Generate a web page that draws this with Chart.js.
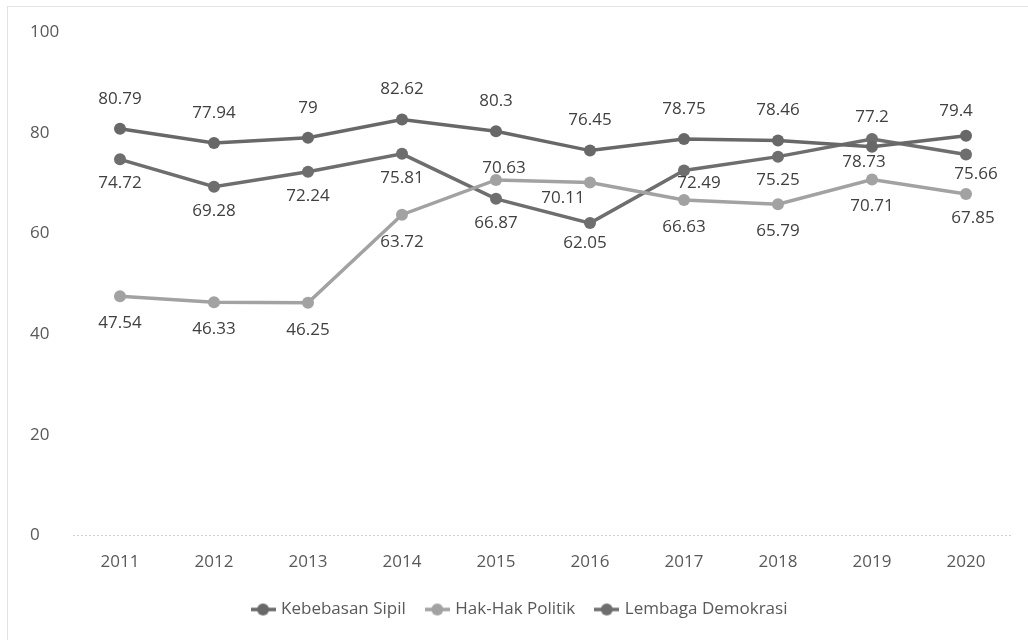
<!DOCTYPE html>
<html>
<head>
<meta charset="utf-8">
<script src="https://cdn.jsdelivr.net/npm/chart.js@4/dist/chart.umd.min.js"></script>
<style>
  html, body { margin: 0; padding: 0; background: #fff; }
  #wrap { position: relative; width: 1028px; height: 640px; overflow: hidden; }
  #frame { position: absolute; left: 7px; top: 6px; width: 1100px; height: 700px; border: 1px solid #e3e3e3; }
  #c { position: absolute; left: 0; top: 0; }
</style>
</head>
<body>
<div id="wrap">
  <div id="frame"></div>
  <canvas id="c" width="1028" height="640"></canvas>
</div>
<script>
// data
const years = ['2011', '2012', '2013', '2014', '2015', '2016', '2017', '2018', '2019', '2020'];
const kebebasanSipil = [80.79, 77.94, 79, 82.62, 80.3, 76.45, 78.75, 78.46, 77.2, 79.4];
const hakPolitik = [47.54, 46.33, 46.25, 63.72, 70.63, 70.11, 66.63, 65.79, 70.71, 67.85];
const lembagaDemokrasi = [74.72, 69.28, 72.24, 75.81, 66.87, 62.05, 72.49, 75.25, 78.73, 75.66];
const yTicks = [0, 20, 40, 60, 80, 100];

const FONT = '"Open Sans", "DejaVu Sans", sans-serif';
const TEXT = '#595959';

// label offsets (dx, dy) from the point, per series, with a few nudges
const labelOffset = [[0, -30], [0, 27], [0, 24]];
const labelNudge = {
    '1-4': [8, -12], '1-5': [-27, 16], '1-9': [7, 24],
    '2-5': [-5, 20], '2-6': [15, 13], '2-8': [-8, 23], '2-9': [10, 20],
    '0-9': [-10, -25]
};

function legendMarker(color) {
    const cv = document.createElement('canvas');
    cv.width = 25; cv.height = 14;
    const g = cv.getContext('2d');
    g.strokeStyle = color; g.lineWidth = 3.5;
    g.beginPath(); g.moveTo(0, 7); g.lineTo(25, 7); g.stroke();
    g.fillStyle = color;
    g.beginPath(); g.arc(12.5, 7, 6, 0, Math.PI * 2); g.fill();
    return cv;
}

const valueLabels = {
    id: 'valueLabels',
    afterDatasetsDraw(chart) {
        const ctx = chart.ctx;
        ctx.save();
        ctx.font = '17px ' + FONT;
        ctx.fillStyle = '#404040';
        ctx.textAlign = 'center';
        ctx.textBaseline = 'middle';
        chart.data.datasets.forEach((ds, di) => {
            chart.getDatasetMeta(di).data.forEach((pt, i) => {
                const off = labelNudge[di + '-' + i] || labelOffset[di];
                ctx.fillText(String(ds.data[i]), pt.x + off[0], pt.y + off[1]);
            });
        });
        ctx.restore();
    }
};

// nudge the legend into place after layout
const legendShift = {
    id: 'legendShift',
    afterLayout(chart) {
        const lg = chart.legend;
        if (!lg) return;
        lg.left -= 1; lg.right -= 1;
        lg.top -= 9; lg.bottom -= 9;
    }
};

function series(label, data, color) {
    return {
        label: label,
        data: data,
        borderColor: color,
        backgroundColor: color,
        borderWidth: 3.5,
        pointRadius: 6,
        pointHoverRadius: 6,
        pointBorderWidth: 0,
        pointBackgroundColor: color,
        tension: 0,
        marker: legendMarker(color)
    };
}

new Chart(document.getElementById('c').getContext('2d'), {
    type: 'line',
    data: {
        labels: years,
        datasets: [
            series('Kebebasan Sipil', kebebasanSipil, '#686868'),
            series('Hak-Hak Politik', hakPolitik, '#a2a2a2'),
            series('Lembaga Demokrasi', lembagaDemokrasi, '#6e6e6e')
        ]
    },
    options: {
        responsive: false,
        animation: false,
        layout: { padding: { left: 30, right: 15, top: 32, bottom: 3 } },
        scales: {
            x: {
                offset: true,
                grid: { display: false, drawTicks: false, offset: true },
                border: { display: false },
                ticks: { color: TEXT, font: { family: FONT, size: 17 }, padding: 16 }
            },
            y: {
                min: 0,
                max: 100,
                afterBuildTicks: (scale) => { scale.ticks = yTicks.map(v => ({ value: v })); },
                afterFit: (scale) => { scale.width = 43; },
                grid: {
                    drawTicks: false,
                    color: (c) => c.tick && c.tick.value === 0 ? '#cfcfcf' : 'rgba(0,0,0,0)'
                },
                border: { display: false, dash: [2, 2] },
                ticks: { color: TEXT, font: { family: FONT, size: 17 }, crossAlign: 'far', padding: 0 }
            }
        },
        plugins: {
            legend: {
                position: 'bottom',
                labels: {
                    color: TEXT,
                    font: { family: FONT, size: 17 },
                    usePointStyle: true,
                    pointStyleWidth: 19,
                    padding: 22,
                    generateLabels: (chart) => {
                        const items = Chart.defaults.plugins.legend.labels.generateLabels(chart);
                        items.forEach(it => { it.pointStyle = chart.data.datasets[it.datasetIndex].marker; });
                        return items;
                    }
                }
            },
            tooltip: { enabled: false }
        }
    },
    plugins: [valueLabels, legendShift]
});
</script>
</body>
</html>
